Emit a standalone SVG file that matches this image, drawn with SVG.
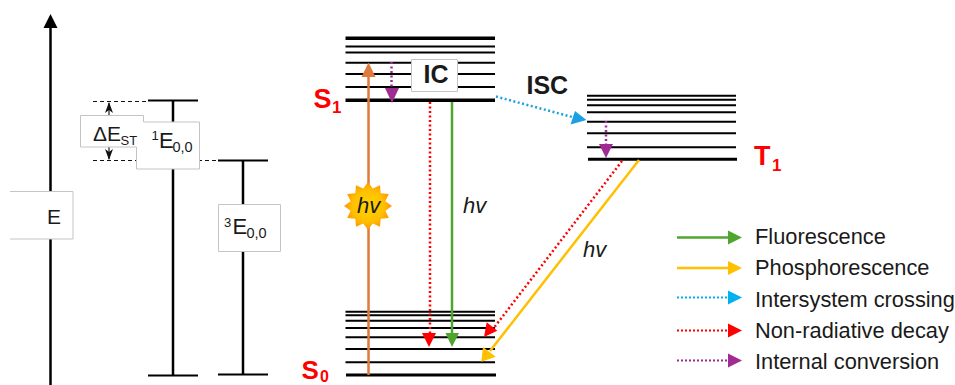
<svg xmlns="http://www.w3.org/2000/svg" width="955" height="385" viewBox="0 0 955 385">
<style>
text{font-family:"Liberation Sans",Arial,sans-serif;fill:#1a1a1a}
.lv,.ax{stroke:#000;fill:none}
.lv{stroke-width:2}
.th{stroke-width:3.5}
.ax{stroke-width:2.5}
.dash{stroke:#111;stroke-width:1.200;stroke-dasharray:4 3;fill:none}
.box{fill:#fff;stroke:none}
.edge{fill:none;stroke:#c4c4c4;stroke-width:1}
.dot{stroke-width:2.500;stroke-dasharray:2 2.500;fill:none}
.ldot{stroke-width:2;stroke-dasharray:2 2;fill:none}
.sol{stroke-width:2.500;fill:none}
.b{font-weight:700}
.red{fill:#f00;font-weight:700}
.i{font-style:italic}
.lg{font-size:21.800px}
.g{stroke:#4fa52e;fill:#4fa52e}
.y{stroke:#ffc000;fill:#ffc000}
.c{stroke:#1ba1e2;fill:#1ba1e2}
.c2{stroke:#00b0f0;fill:#00b0f0}
.r{stroke:#f00;fill:#f00}
.p{stroke:#a02b93;fill:#a02b93}
.o{stroke:#e0793c;fill:#e0793c}
.f{stroke:none}
</style>
<defs>
<radialGradient id="sun"><stop offset="0" stop-color="#ffd400"/><stop offset="0.65" stop-color="#ffc000"/><stop offset="1" stop-color="#ff9500"/></radialGradient>
</defs>

<g id="energy-axis">
<path class="ax" d="M50.500 385V25"/>
<polygon points="50.500,14 43.500,28 57.500,28" fill="#000"/>
<path class="box" d="M10 191.500H73V239H10Z"/>
<path class="edge" d="M10 191.500H73V239H10"/>
<text x="47" y="224" font-size="21">E</text>
</g>

<g id="singlet-energy">
<path class="lv" d="M148 100.500H198M148 375.500H198"/>
<path class="ax" d="M173 100V375"/>
</g>
<g id="triplet-energy">
<path class="lv" d="M218 160.500H268M218 374.500H268"/>
<path class="ax" d="M243 160V374"/>
<path class="box" d="M218.500 204.500H280.500V251.500H218.500Z"/>
<path class="edge" d="M218.500 204.500H280.500V251.500H218.500Z"/>
<text x="224" y="227" font-size="13">3</text>
<text x="232.500" y="234" font-size="22">E</text>
<text x="246.500" y="238" font-size="14.500">0,0</text>
</g>
<g id="delta-est">
<path class="dash" d="M93 101.500H148M93 160.500H218"/>
<path d="M109 103V115M109 147V159" stroke="#222" stroke-width="1.200" fill="none"/>
<polygon points="109,102 105,113 109,110 113,113" fill="#111"/>
<polygon points="109,160 105,149 109,152 113,149" fill="#111"/>
<path class="box" d="M80.500 115.500H143V122H199.500V169H136.500V147H80.500Z"/>
<path class="edge" d="M143.500 122V115.500H80.500V147H136.500V169H199.500V122H143.500"/>
<text x="93" y="141" font-size="21">ΔE</text>
<text x="120.500" y="145" font-size="13">ST</text>
<text x="151.500" y="140" font-size="13">1</text>
<text x="159" y="148" font-size="22">E</text>
<text x="172.500" y="152" font-size="14.500">0,0</text>
</g>

<g id="S1">
<path class="lv th" d="M345.500 38.300H495"/>
<path class="lv" d="M345.500 46.500H495M345.500 52.500H495M345.500 62.700H495M345.500 74H495M345.500 87H495"/>
<path class="lv th" d="M345.500 100.300H495"/>
<text class="red" x="313.500" y="108" font-size="27">S</text>
<text class="red" x="332" y="113" font-size="17">1</text>
</g>
<g id="S0">
<path class="lv" d="M345.500 311.700H495M345.500 315.300H495M345.500 320.700H495M345.500 328H495M345.500 337.300H495M345.500 349H495M345.500 362.300H495"/>
<path class="lv" style="stroke-width:3" d="M346 375H496"/>
<text class="red" x="301.500" y="379" font-size="26">S</text>
<text class="red" x="320" y="381.500" font-size="16">0</text>
</g>
<g id="T1">
<path class="lv" d="M587 95.700H736M587 99.700H736M587 105.300H736M587 112.300H736M587 121.700H736M587 133.300H736M587 147.300H736"/>
<path class="lv" style="stroke-width:3" d="M588 159.300H737"/>
<text class="red" x="754" y="165" font-size="27">T</text>
<text class="red" x="772" y="171" font-size="17">1</text>
</g>

<g id="connectors">
<path class="sol o" style="fill:none" d="M368.500 375V75"/>
<polygon class="o f" points="368.500,62.500 361.500,77 375.500,77"/>
<path class="dot p" style="fill:none" d="M391.500 62V89"/>
<polygon class="p f" points="392,103 385,88 399,88"/>
<path class="dot r" style="fill:none" d="M430 102V334"/>
<polygon class="r f" points="429,347 422,333 436,333"/>
<path class="sol g" style="fill:none" d="M452 102V334"/>
<polygon class="g f" points="452,347 445.500,333 459,333"/>
<path class="dot c" style="fill:none" d="M496 96.500L574 117.500"/>
<polygon class="c f" points="586.500,120 570.500,124.500 575,111"/>
<path class="dot p" style="fill:none" d="M606 121V145"/>
<polygon class="p f" points="606,158 599,144 613,144"/>
<path class="dot r" style="fill:none" d="M622 161L493 329"/>
<polygon class="r f" points="484,337 486.700,322.300 497.300,330.700"/>
<path class="sol y" style="fill:none" d="M639 160L490 351"/>
<polygon class="y f" points="481.300,361.700 483,347 495.700,356.700"/>
</g>

<g id="IC-label">
<path class="box" d="M411.500 59.500H457.500V91.500H411.500Z"/>
<path class="edge" d="M411.500 59.500H457.500V91.500H411.500Z"/>
<text class="b" x="423.500" y="83" font-size="25">IC</text>
</g>
<g id="ISC-label"><text class="b" x="526.500" y="94" font-size="25">ISC</text></g>
<g id="sun-hv">
<polygon fill="url(#sun)" points="367,182 371.700,188.600 379,185.200 379.700,193.300 387.800,194 384.400,201.300 391,206 384.400,210.700 387.800,218 379.700,218.700 379,226.800 371.700,223.400 367,230 362.300,223.400 355,226.800 354.300,218.700 346.200,218 349.600,210.700 343,206 349.600,201.300 346.200,194 354.300,193.300 355,185.200 362.300,188.600" transform="translate(1,0)"/>
<text class="i" x="357" y="213" font-size="22">hv</text>
</g>
<g id="hv-fluorescence"><text class="i" x="463" y="213" font-size="22">hv</text></g>
<g id="hv-phosphorescence"><text class="i" x="583" y="257" font-size="22">hv</text></g>

<g id="legend">
<path class="sol g" style="fill:none" d="M677 237.500H729"/><polygon class="g f" points="742,237.500 728,230.500 728,244.500"/>
<text class="lg" x="755" y="244">Fluorescence</text>
<path class="sol y" style="fill:none" d="M677 268H729"/><polygon class="y f" points="742,268 728,261 728,275"/>
<text class="lg" x="755" y="275">Phosphorescence</text>
<path class="ldot c2" style="fill:none" d="M677 297.500H729"/><polygon class="c2 f" points="742,297.500 728,290.500 728,304.500"/>
<text class="lg" x="755" y="307">Intersystem crossing</text>
<path class="ldot r" style="fill:none" d="M677 330.500H729"/><polygon class="r f" points="742,330.500 728,323.500 728,337.500"/>
<text class="lg" x="755" y="338">Non-radiative decay</text>
<path class="ldot p" style="fill:none" d="M677 360.500H729"/><polygon class="p f" points="742,360.500 728,353.500 728,367.500"/>
<text class="lg" x="755" y="369">Internal conversion</text>
</g>
</svg>
